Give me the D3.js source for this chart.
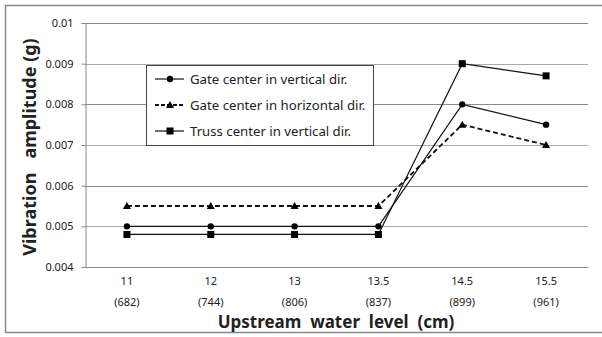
<!DOCTYPE html>
<html>
<head>
<meta charset="utf-8">
<script src="https://cdn.jsdelivr.net/npm/d3@7"></script>
<style>
  body { margin: 0; background: #fff; }
  text { font-family: "Noto Sans", "Open Sans", sans-serif; fill: #222; }
</style>
</head>
<body>
<svg width="602" height="337"></svg>
<script>
const levels = ["11", "12", "13", "13.5", "14.5", "15.5"];
const flows = ["(682)", "(744)", "(806)", "(837)", "(899)", "(961)"];
const yTicks = [0.004, 0.005, 0.006, 0.007, 0.008, 0.009, 0.01];

const gateVertical = [0.005, 0.005, 0.005, 0.005, 0.008, 0.0075];
const gateHorizontal = [0.0055, 0.0055, 0.0055, 0.0055, 0.0075, 0.007];
const trussVertical = [0.0048, 0.0048, 0.0048, 0.0048, 0.009, 0.0087];

const series = [
  { name: "Gate center in vertical dir.", values: gateVertical, marker: "circle", dash: null, width: 1.2 },
  { name: "Gate center in horizontal dir.", values: gateHorizontal, marker: "triangle", dash: "5,3", width: 1.8 },
  { name: "Truss center in vertical dir.", values: trussVertical, marker: "square", dash: null, width: 1.2 }
];

const svg = d3.select("svg");
const margin = { left: 85, right: 14, top: 23, bottom: 70 };
const W = 602, H = 337;

// outer frame
svg.append("path")
  .attr("d", "M602,5.5H5.5V332.5H602")
  .attr("fill", "none")
  .attr("stroke", "#888")
  .attr("stroke-width", 1.5);

const x = d3.scaleBand().domain(levels).range([margin.left, W - margin.right]);
const y = d3.scaleLinear().domain([0.004, 0.01]).range([H - margin.bottom, margin.top]);

// gridlines
svg.append("g")
  .selectAll("line")
  .data(yTicks)
  .enter()
  .append("line")
  .attr("x1", margin.left)
  .attr("x2", W - margin.right)
  .attr("y1", function (d) { return Math.round(y(d)) + 0.5; })
  .attr("y2", function (d) { return Math.round(y(d)) + 0.5; })
  .attr("stroke", function (d, i) { return i % 2 ? "#aaa" : "#8a8a8a"; })
  .attr("stroke-width", 1.2);

// y axis
const yAxis = svg.append("g")
  .attr("transform", "translate(" + (margin.left + 0.5) + ",0)")
  .call(d3.axisLeft(y).tickValues(yTicks).tickSize(4).tickPadding(8)
    .tickFormat(function (d) { return String(+d.toFixed(3)); }));
yAxis.selectAll("line, path").attr("stroke", "#888");
yAxis.selectAll("text").style("font-size", "11px").attr("fill", "#222");

// x labels
const xl = svg.append("g");
xl.selectAll("text.lv")
  .data(levels)
  .enter()
  .append("text")
  .attr("class", "lv")
  .attr("x", function (d) { return x(d) + x.bandwidth() / 2; })
  .attr("y", 285)
  .attr("text-anchor", "middle")
  .style("font-size", "11px")
  .text(function (d) { return d; });
xl.selectAll("text.fl")
  .data(flows)
  .enter()
  .append("text")
  .attr("class", "fl")
  .attr("x", function (d, i) { return x(levels[i]) + x.bandwidth() / 2; })
  .attr("y", 306)
  .attr("text-anchor", "middle")
  .style("font-size", "11px")
  .text(function (d) { return d; });

// axis titles
svg.append("text")
  .attr("x", 336)
  .attr("y", 328)
  .attr("text-anchor", "middle")
  .style("font-size", "17px")
  .style("font-weight", "bold")
  .attr("xml:space", "preserve")
  .text("Upstream  water  level  (cm)");
svg.append("text")
  .attr("transform", "translate(36,147) rotate(-90)")
  .attr("text-anchor", "middle")
  .style("font-size", "18px")
  .style("font-weight", "bold")
  .attr("xml:space", "preserve")
  .text("Vibration   amplitude (g)");

function drawMarker(g, type, cx, cy) {
  if (type === "circle") {
    g.append("circle").attr("cx", cx).attr("cy", cy).attr("r", 3.2).attr("fill", "#000");
  } else if (type === "square") {
    g.append("rect").attr("x", cx - 3.5).attr("y", cy - 3.5).attr("width", 7).attr("height", 7).attr("fill", "#000");
  } else {
    g.append("path")
      .attr("d", "M" + cx + "," + (cy - 4) + "L" + (cx + 4) + "," + (cy + 3) + "L" + (cx - 4) + "," + (cy + 3) + "Z")
      .attr("fill", "#000");
  }
}

const line = d3.line()
  .x(function (d, i) { return x(levels[i]) + x.bandwidth() / 2; })
  .y(function (d) { return y(d); });

series.forEach(function (s) {
  const g = svg.append("g");
  g.append("path")
    .datum(s.values)
    .attr("d", line)
    .attr("fill", "none")
    .attr("stroke", "#111")
    .attr("stroke-width", s.width)
    .attr("stroke-dasharray", s.dash);
  s.values.forEach(function (v, i) {
    drawMarker(g, s.marker, x(levels[i]) + x.bandwidth() / 2, y(v));
  });
});

// legend
const lg = svg.append("g");
lg.append("rect")
  .attr("x", 146.5).attr("y", 65.5)
  .attr("width", 227).attr("height", 80)
  .attr("fill", "#fff")
  .attr("stroke", "#444")
  .attr("stroke-width", 1);
series.forEach(function (s, i) {
  const cy = 79 + i * 26;
  lg.append("line")
    .attr("x1", 155).attr("x2", 184)
    .attr("y1", cy).attr("y2", cy)
    .attr("stroke", "#111")
    .attr("stroke-width", s.width)
    .attr("stroke-dasharray", s.dash ? "4,2" : null);
  drawMarker(lg, s.marker, 170, cy);
  lg.append("text")
    .attr("x", 190).attr("y", cy + 4.5)
    .style("font-size", "13.2px")
    .text(s.name);
});
</script>
</body>
</html>
